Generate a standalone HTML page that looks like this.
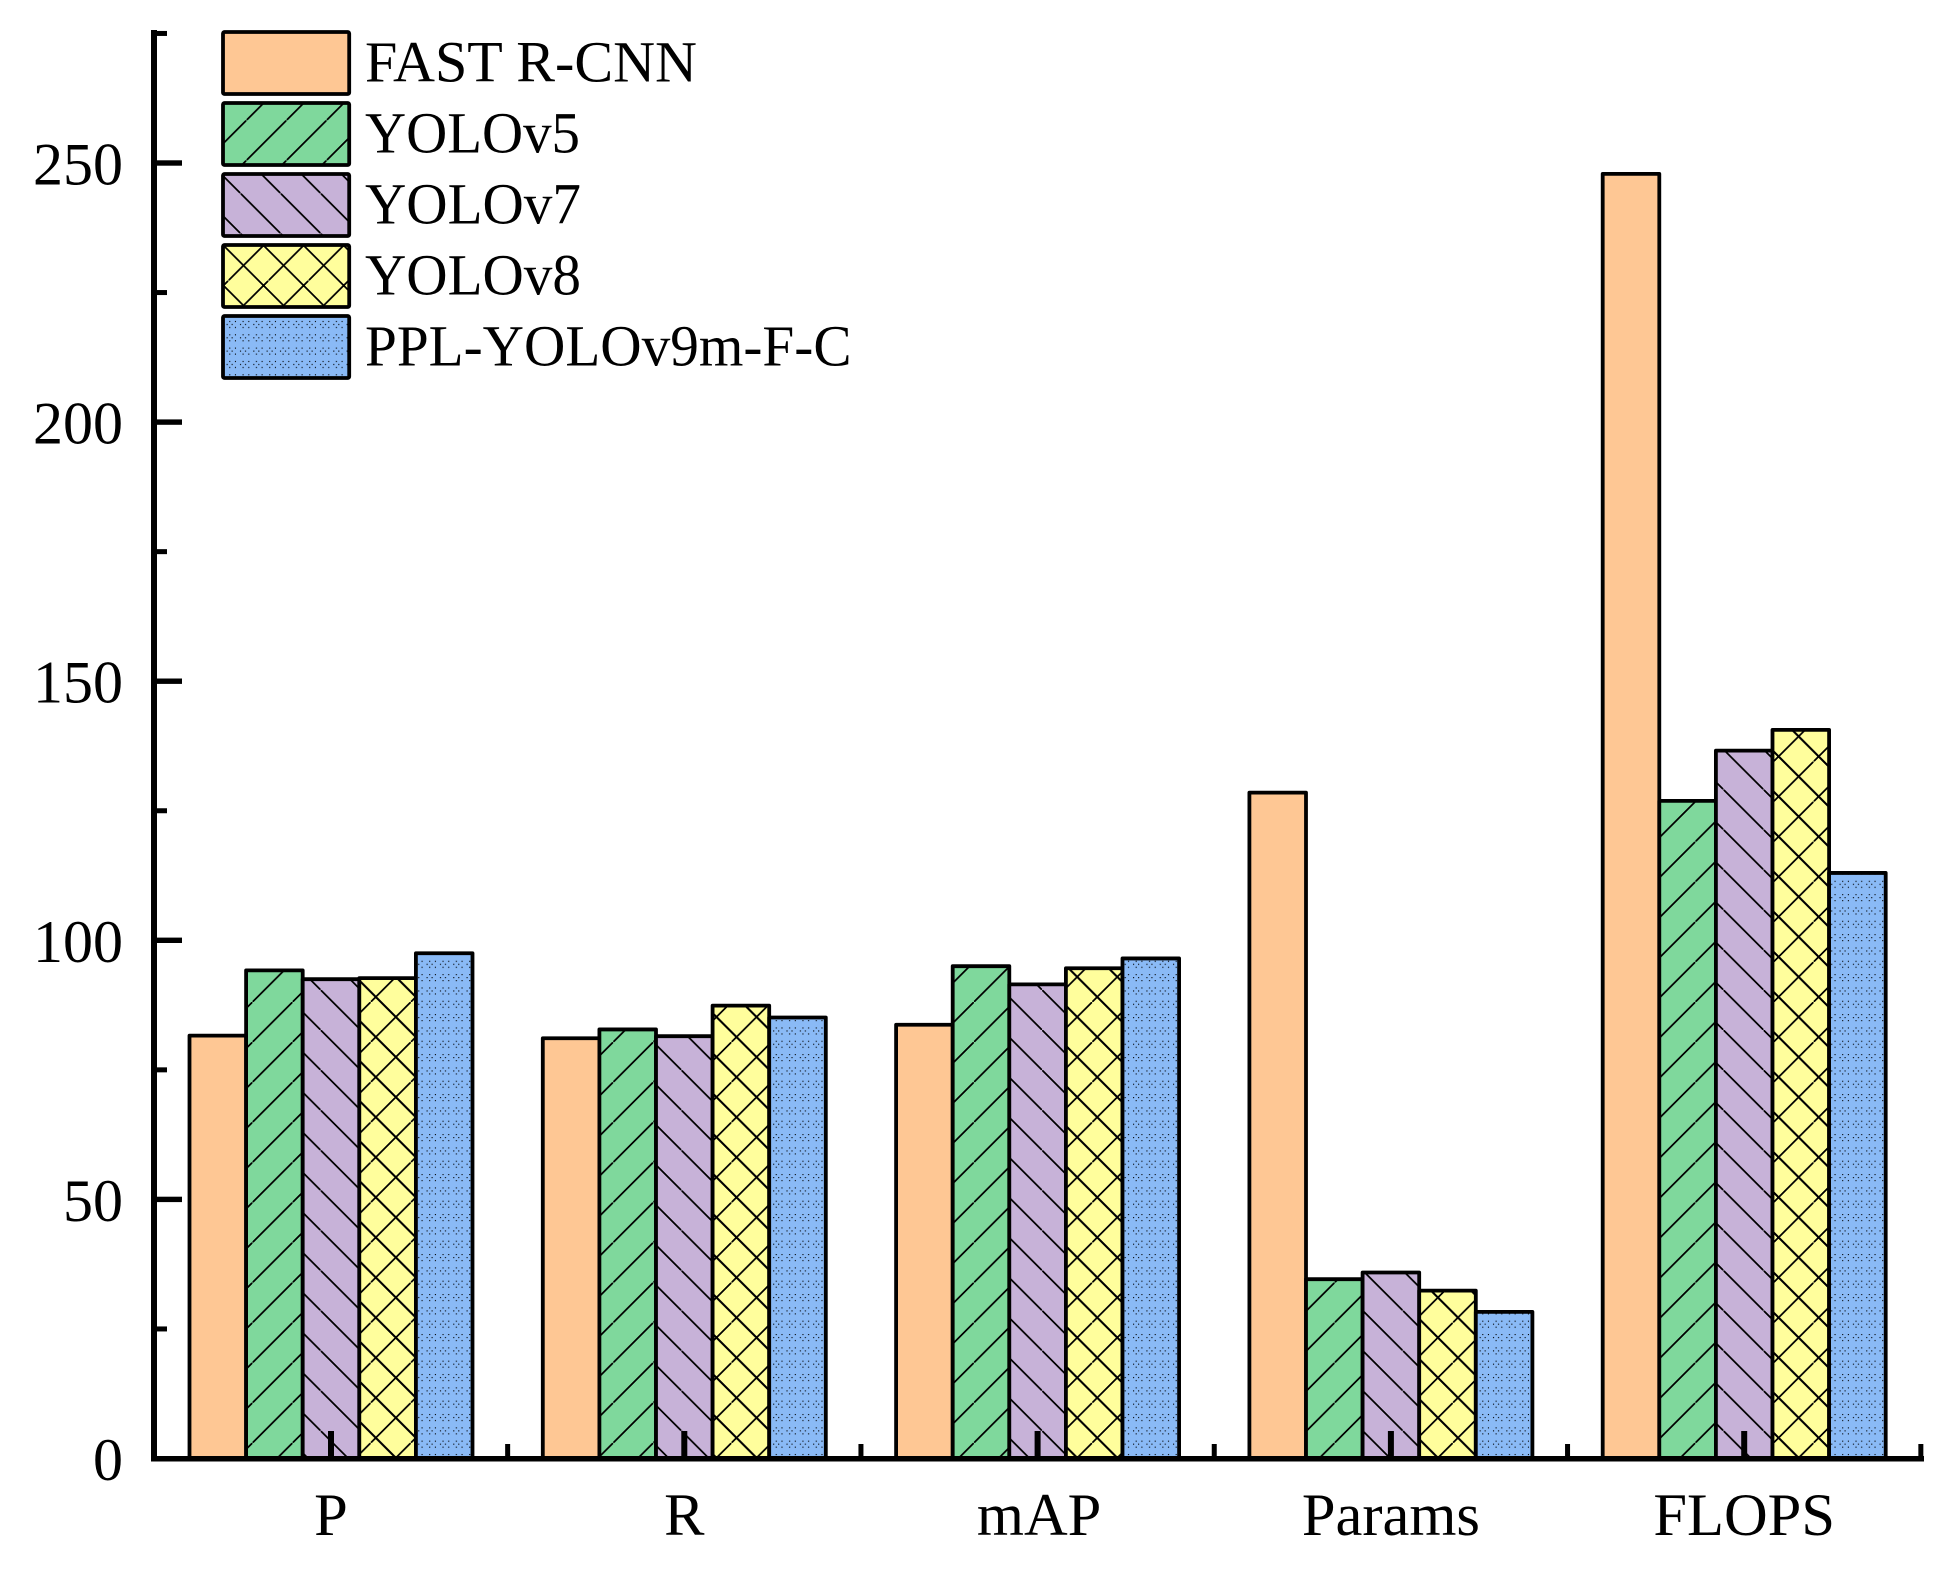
<!DOCTYPE html>
<html lang="en">
<head>
<meta charset="utf-8">
<title>Model comparison bar chart</title>
<style>
html,body{margin:0;padding:0;background:#fff;width:1943px;height:1576px;overflow:hidden}
svg{display:block}
text{font-family:"Liberation Serif","Times New Roman",serif;fill:#000}
</style>
</head>
<body>
<svg id="chart" xmlns="http://www.w3.org/2000/svg" width="1943" height="1576" viewBox="0 0 1943 1576">
<defs id="defs"></defs>
<rect x="0" y="0" width="1943" height="1576" fill="#ffffff"></rect>
</svg>
<script>
const categories = ['P', 'R', 'mAP', 'Params', 'FLOPS'];
const seriesNames = ['FAST R-CNN', 'YOLOv5', 'YOLOv7', 'YOLOv8', 'PPL-YOLOv9m-F-C'];
const fastRcnnValues = [81.6, 81.1, 83.7, 128.5, 247.9];
const yolov5Values = [94.2, 82.8, 95.0, 34.6, 126.9];
const yolov7Values = [92.5, 81.5, 91.5, 35.9, 136.6];
const yolov8Values = [92.7, 87.4, 94.6, 32.4, 140.6];
const pplYoloValues = [97.5, 85.1, 96.5, 28.3, 113.0];
const yTickLabels = [0, 50, 100, 150, 200, 250];
const yMinorTickValues = [25, 75, 125, 175, 225, 275];

const allSeries = [fastRcnnValues, yolov5Values, yolov7Values, yolov8Values, pplYoloValues];
const fills = ['#FEC794', '#7FD89C', '#C7B2D8', '#FFFE9C', '#8ABAF6'];
const seriesSlugs = ['fast-r-cnn', 'yolov5', 'yolov7', 'yolov8', 'ppl-yolov9m-f-c'];

const NS = 'http://www.w3.org/2000/svg';
const svg = document.getElementById('chart');
const defs = document.getElementById('defs');

const Y0 = 1458.5, PX_PER_UNIT = 5.182;
const X0 = 331, CAT_STEP = 353.3, BAR_W = 56.6;
function yScale(v) { return Y0 - v * PX_PER_UNIT; }
function xCenter(i) { return X0 + i * CAT_STEP; }
function barLeft(i, s) { return xCenter(i) - 2.5 * BAR_W + s * BAR_W; }

function el(tag, attrs, parent) {
  const e = document.createElementNS(NS, tag);
  for (const k in attrs) e.setAttribute(k, attrs[k]);
  (parent || svg).appendChild(e);
  return e;
}

const P = 40.08;
function hatchPattern(id, sumPhase, diffPhase) {
  const pat = el('pattern', {id: id, patternUnits: 'userSpaceOnUse', width: P, height: P, x: 0, y: 0,
    patternTransform: 'translate(' + sumPhase + ',' + 0 + ')'}, defs);
  const ln = {stroke: '#000', 'stroke-width': 2, 'shape-rendering': 'crispEdges'};
  if (diffPhase === null) {
    el('line', Object.assign({x1: -2, y1: P + 2, x2: P + 2, y2: -2}, ln), pat);
    return;
  }
  el('line', Object.assign({x1: -2, y1: P + 2, x2: P + 2, y2: -2}, ln), pat);
  const off = ((diffPhase + sumPhase) % P + P) % P;
  [-P, 0, P].forEach(function (d) {
    el('line', Object.assign({x1: -2, y1: off + d - 2, x2: P + 2, y2: off + d + P + 2}, ln), pat);
  });
}
function backPattern(id, diffPhase) {
  const pat = el('pattern', {id: id, patternUnits: 'userSpaceOnUse', width: P, height: P,
    patternTransform: 'translate(0,' + diffPhase + ')'}, defs);
  el('line', {x1: -2, y1: -2, x2: P + 2, y2: P + 2, stroke: '#000', 'stroke-width': 2, 'shape-rendering': 'crispEdges'}, pat);
}
function dotPattern(id) {
  const T = 13.33;
  const pat = el('pattern', {id: id, patternUnits: 'userSpaceOnUse', width: T, height: T}, defs);
  [[2.6, 1], [8.3, 1], [0, 4], [5, 4], [2.6, 7], [8.3, 7]].forEach(function (d) {
    el('rect', {x: d[0], y: d[1], width: 1.1, height: 1.1, fill: '#000'}, pat);
  });
}
hatchPattern('h-green', 12, null);
backPattern('h-purple', 28);
hatchPattern('h-yellow', 10, 20);
dotPattern('h-blue');
hatchPattern('l-green', 6, null);
backPattern('l-purple', 33);
hatchPattern('l-yellow', 28, 22);
const barPatterns = [null, 'h-green', 'h-purple', 'h-yellow', 'h-blue'];
const legendPatterns = [null, 'l-green', 'l-purple', 'l-yellow', 'h-blue'];

// Bars
allSeries.forEach(function (values, s) {
  values.forEach(function (v, i) {
    const g = el('g', {});
    
    
    const x = barLeft(i, s), y = yScale(v), h = Y0 - y;
    el('rect', {x: x, y: y, width: BAR_W, height: h, fill: fills[s]}, g);
    if (barPatterns[s]) el('rect', {x: x, y: y, width: BAR_W, height: h, fill: 'url(#' + barPatterns[s] + ')'}, g);
    el('rect', {x: x, y: y, width: BAR_W, height: h, fill: 'none', stroke: '#000', 'stroke-width': 3.8, 'stroke-linejoin': 'round'}, g);
  });
});

// Axes
const yAxis = el('rect', {x: 151, y: 30, width: 6, height: 1431, fill: '#000'});


const xAxis = el('rect', {x: 151, y: 1456, width: 1773, height: 5.5, fill: '#000'});



yTickLabels.forEach(function (v) {
  const y = yScale(v);
  if (v !== 0) {
    const t = el('rect', {x: 157, y: y - 2.7, width: 25, height: 5.4, fill: '#000'});
    
    
  }
  const lab = el('text', {x: 123, y: y + 21.5, 'text-anchor': 'end', 'font-size': 60});
  lab.textContent = String(v);
  
  
});
yMinorTickValues.forEach(function (v) {
  const t = el('rect', {x: 157, y: yScale(v) - 2.5, width: 10, height: 5, fill: '#000'});
  
  
});
categories.forEach(function (c, i) {
  const cx = xCenter(i);
  const t = el('rect', {x: cx - 3, y: 1431, width: 6, height: 26, fill: '#000'});
  
  
  const m = el('rect', {x: cx + CAT_STEP / 2 - 2.5, y: 1444, width: 5, height: 13, fill: '#000'});
  
  
  const lab = el('text', {x: cx + (c === 'mAP' ? 1.5 : 0), y: 1535, 'text-anchor': 'middle', 'font-size': 60.5});
  lab.textContent = c;
  
  
});

// Legend
const legendWidths = [332, 215, 216, 216, 486.5];
seriesNames.forEach(function (name, s) {
  const top = 32 + s * 71;
  const g = el('g', {});
  
  
  const box = {x: 223, y: top, width: 126.2, height: 62};
  el('rect', Object.assign({fill: fills[s]}, box), g);
  if (legendPatterns[s]) el('rect', Object.assign({fill: 'url(#' + legendPatterns[s] + ')'}, box), g);
  el('rect', Object.assign({fill: 'none', stroke: '#000', 'stroke-width': 3.8, rx: 1.5}, box), g);
  const t = el('text', {x: 365, y: top + 49.7, 'font-size': 58.5, textLength: legendWidths[s], lengthAdjust: 'spacingAndGlyphs'}, g);
  t.textContent = name;
  
  
});
</script>
</body>
</html>
